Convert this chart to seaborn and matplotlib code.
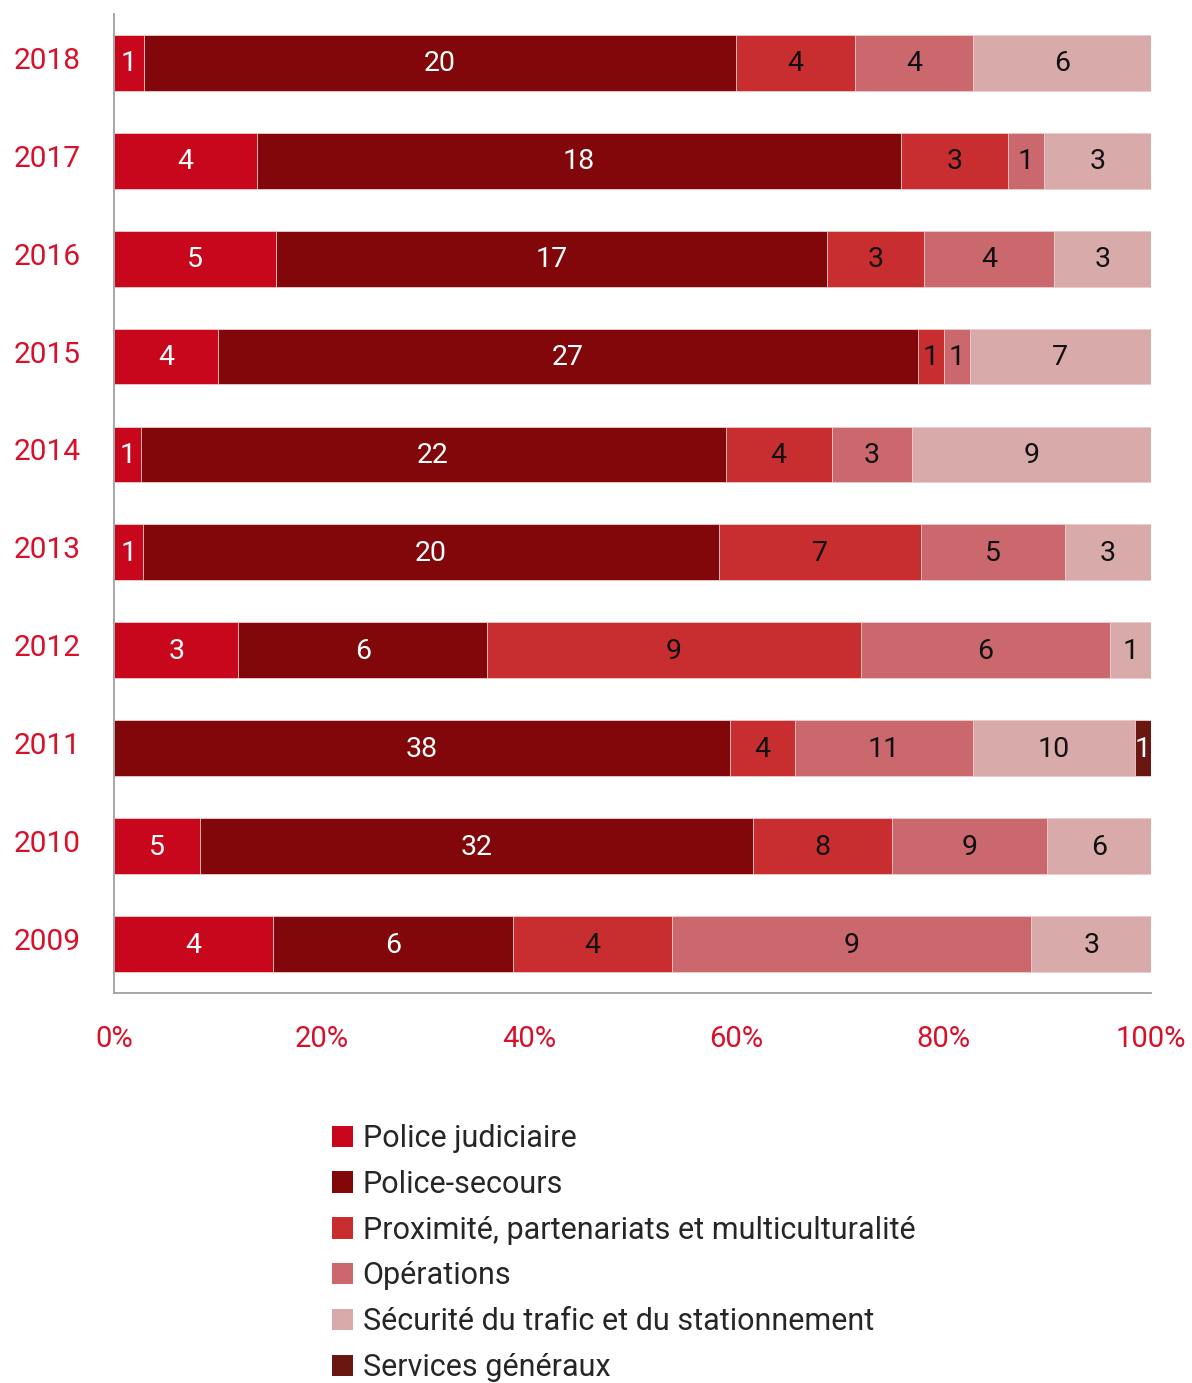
import numpy as np
import pandas as pd
import matplotlib
matplotlib.use("Agg")
import matplotlib.pyplot as plt
import matplotlib.transforms as mtransforms
from matplotlib.patches import Patch
import seaborn as sns

years = ["2018", "2017", "2016", "2015", "2014", "2013", "2012", "2011", "2010", "2009"]
services = [
    "Police judiciaire",
    "Police-secours",
    "Proximité, partenariats et multiculturalité",
    "Opérations",
    "Sécurité du trafic et du stationnement",
    "Services généraux",
]
police_judiciaire = [1, 4, 5, 4, 1, 1, 3, 0, 5, 4]
police_secours = [20, 18, 17, 27, 22, 20, 6, 38, 32, 6]
proximite = [4, 3, 3, 1, 4, 7, 9, 4, 8, 4]
operations = [4, 1, 4, 1, 3, 5, 6, 11, 9, 9]
securite_trafic = [6, 3, 3, 7, 9, 3, 1, 10, 6, 3]
services_generaux = [0, 0, 0, 0, 0, 0, 0, 1, 0, 0]

colors = ["#c8071d", "#82070a", "#c82e2f", "#ca686d", "#d9aaaa", "#6a1711"]
label_colors = ["white", "white", "#111111", "#111111", "#111111", "white"]
accent = "#d8102a"

counts = np.array([police_judiciaire, police_secours, proximite,
                   operations, securite_trafic, services_generaux], dtype=float)
pct = counts / counts.sum(axis=0) * 100
cum_end = np.cumsum(pct, axis=0)
cum_start = cum_end - pct

sns.set_theme(style="white")
plt.rcParams["font.family"] = ["Roboto", "DejaVu Sans"]

fig = plt.figure(figsize=(11.92, 13.83), dpi=100)
ax = fig.add_axes([0.0956, 0.282, 0.870, 0.708])

# Stacked 100% bars: draw cumulative totals from the outermost layer inward
for i in range(len(services) - 1, -1, -1):
    df = pd.DataFrame({"year": years, "end": cum_end[i]})
    sns.barplot(data=df, x="end", y="year", orient="h", color=colors[i],
                width=0.57, saturation=1, ax=ax, edgecolor="#f0d0d0",
                linewidth=0.6)

for i in range(len(services)):
    for j, y in enumerate(years):
        if counts[i, j] > 0:
            ax.text(cum_start[i, j] + pct[i, j] / 2, j + 0.01, f"{int(counts[i, j])}",
                    ha="center", va="center", fontsize=20.5,
                    color=label_colors[i])

ax.set_xlim(0, 100)
ax.set_ylim(9.5, -0.5)
ax.set_xticks([0, 20, 40, 60, 80, 100])
ax.set_xticklabels(["0%", "20%", "40%", "60%", "80%", "100%"])
ax.set_xlabel("")
ax.set_ylabel("")
ax.tick_params(axis="x", length=0, pad=23, labelsize=21, labelcolor=accent)
ax.tick_params(axis="y", length=0, pad=24, labelsize=21.5, labelcolor=accent)
shift_up = mtransforms.ScaledTranslation(0, 5 / 100, fig.dpi_scale_trans)
for lab in ax.get_yticklabels():
    lab.set_transform(lab.get_transform() + shift_up)
sns.despine(ax=ax, top=True, right=True)
for side in ["left", "bottom"]:
    ax.spines[side].set_color("#a0a0a0")
    ax.spines[side].set_linewidth(1.3)

handles = [Patch(facecolor=c, edgecolor="none") for c in colors]
fig.legend(handles, services, loc="upper left", bbox_to_anchor=(0.2785, 0.1873),
           frameon=False, fontsize=22, handlelength=0.7, handleheight=0.7,
           handletextpad=0.3, labelspacing=0.55, borderpad=0, borderaxespad=0)

fig.savefig("out.png", dpi=100, facecolor="white")
